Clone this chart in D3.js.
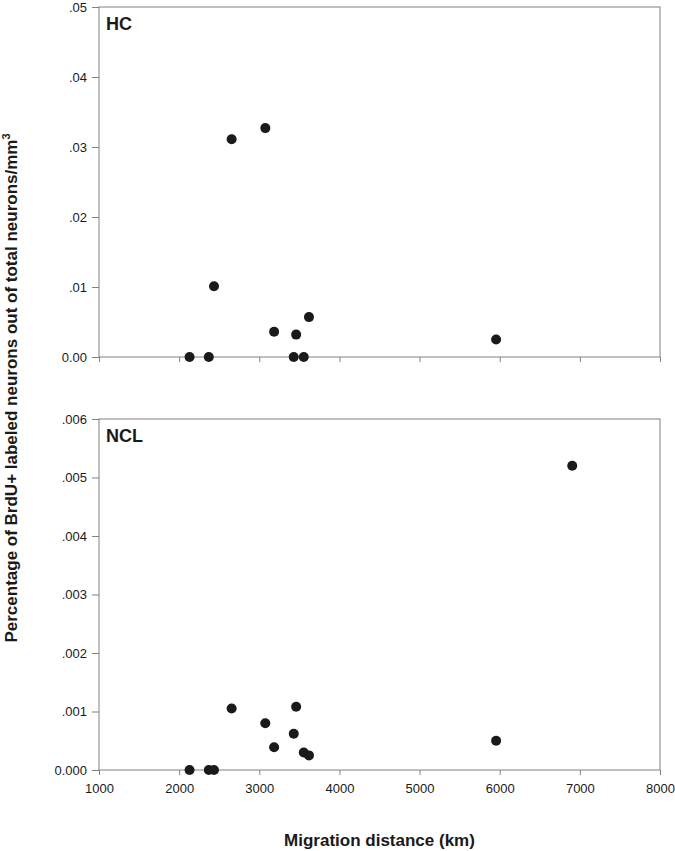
<!DOCTYPE html>
<html>
<head>
<meta charset="utf-8">
<script src="https://cdnjs.cloudflare.com/ajax/libs/d3/7.8.5/d3.min.js"></script>
<style>
  body { margin: 0; background: #fff; }
  svg text { font-family: Arial, "Liberation Sans", sans-serif; fill: #1a1a1a; }
  .axis path, .axis line { stroke: #808080; }
  .axis text { font-size: 13px; }
</style>
</head>
<body>
<div id="chart"></div>
<script>
// migration distance (km) per bird, shared by both panels
var distance = [2130, 2370, 2435, 2655, 3075, 3185, 3430, 3460, 3555, 3620, 5955, 6905];
// HC values (no point for the 6905 km bird)
var hcValues = [0, 0, 0.0101, 0.0311, 0.0327, 0.0036, 0, 0.0032, 0, 0.0057, 0.0025, null];
// NCL values
var nclValues = [0, 0, 0, 0.00105, 0.0008, 0.00039, 0.00062, 0.00108, 0.0003, 0.00025, 0.0005, 0.0052];

var xTicks = [1000, 2000, 3000, 4000, 5000, 6000, 7000, 8000];
var hcTicks = [0, 0.01, 0.02, 0.03, 0.04, 0.05];
var hcTickLabels = ["0.00", ".01", ".02", ".03", ".04", ".05"];
var nclTicks = [0, 0.001, 0.002, 0.003, 0.004, 0.005, 0.006];
var nclTickLabels = ["0.000", ".001", ".002", ".003", ".004", ".005", ".006"];

var W = 675, H = 851;
var left = 99, right = 660;

var svg = d3.select("#chart").append("svg").attr("width", W).attr("height", H);

var x = d3.scaleLinear().domain([1000, 8000]).range([left, right]);

function panel(top, bottom, values, ticks, labels, name, showXLabels) {
  var y = d3.scaleLinear().domain([0, ticks[ticks.length - 1]]).range([bottom, top]);

  // frame
  svg.append("rect").attr("x", left).attr("y", top).attr("width", right - left).attr("height", bottom - top)
    .attr("fill", "none").attr("stroke", "#808080").attr("stroke-width", 1);

  var ya = svg.append("g").attr("class", "axis").attr("transform", `translate(${left},0)`)
    .call(d3.axisLeft(y).tickValues(ticks).tickFormat((d, i) => labels[i]).tickSize(7).tickPadding(5).tickSizeOuter(0));
  ya.select(".domain").remove();

  var xa = svg.append("g").attr("class", "axis").attr("transform", `translate(0,${bottom})`)
    .call(d3.axisBottom(x).tickValues(xTicks).tickFormat(d3.format("d")).tickSize(5).tickPadding(9).tickSizeOuter(0));
  xa.select(".domain").remove();
  if (!showXLabels) xa.selectAll("text").remove();

  svg.append("text").attr("x", left + 7).attr("y", top + 23).attr("font-size", "18px").attr("font-weight", "bold").text(name);

  var pts = distance.map((d, i) => ({ d: d, v: values[i] })).filter(p => p.v !== null);
  svg.append("g").selectAll("circle").data(pts).join("circle")
    .attr("cx", p => x(p.d)).attr("cy", p => y(p.v)).attr("r", 5).attr("fill", "#1a1a1a");
}

panel(7, 357, hcValues, hcTicks, hcTickLabels, "HC", false);
panel(419, 770, nclValues, nclTicks, nclTickLabels, "NCL", true);

svg.append("text").attr("x", (left + right) / 2).attr("y", 846).attr("text-anchor", "middle")
  .attr("font-size", "17px").attr("font-weight", "bold").text("Migration distance (km)");

var yt = svg.append("text").attr("text-anchor", "middle").attr("font-size", "17px").attr("font-weight", "bold")
  .attr("transform", "translate(17,388) rotate(-90)");
yt.append("tspan").text("Percentage of BrdU+ labeled neurons out of total neurons/mm");
yt.append("tspan").attr("dy", "-7").attr("font-size", "11px").text("3");
</script>
</body>
</html>
